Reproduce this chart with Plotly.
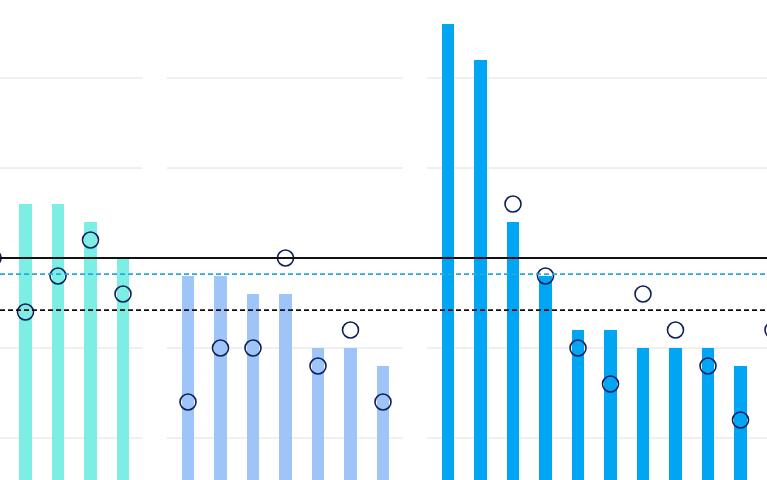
import plotly.graph_objects as go

# three groups of bars with open-circle markers on top
group_colors = ["#7DEEE3", "#9FC4F8", "#00A6F4"]
g1_bars = [None, 36, 36, 34, 30]
g1_dots = [30, 24, 28, 32, 26]
g2_bars = [28, 28, 26, 26, 20, 20, 18]
g2_dots = [14, 20, 20, 30, 18, 22, 14]
g3_bars = [56, 52, 34, 28, 22, 22, 20, 20, 20, 18, None]
g3_dots = [None, None, 36, 28, 20, 16, 26, 22, 18, 12, 22]

# reference lines
solid_ref = 30
cyan_ref = 28.2
dark_ref = 24.2
grid_vals = [10, 20, 30, 40, 50]

groups = [(g1_bars, g1_dots), (g2_bars, g2_dots), (g3_bars, g3_dots)]

bar_traces, dot_traces, shapes = [], [], []
start = 0
for (bars, dots), col in zip(groups, group_colors):
    xs = list(range(start, start + len(bars)))
    bar_traces.append(go.Bar(x=xs, y=bars, marker_color=col, width=0.37,
                             marker_line_width=0, showlegend=False))
    # keep clipping on so the edge circles are cut, not dropped
    dot_traces.append(go.Scatter(x=xs, y=dots, mode="markers",
                                 marker=dict(symbol="circle-open", size=16,
                                             color="#0C1F5B", line_width=1.6),
                                 showlegend=False))
    # gridlines broken between groups
    for g in grid_vals:
        shapes.append(dict(type="line", layer="below", xref="x", yref="y",
                           x0=xs[0] - 0.65, x1=xs[-1] + 0.6, y0=g, y1=g,
                           line=dict(color="#E0E0E0", width=1)))
    start = xs[-1] + 2

shapes += [
    dict(type="line", xref="paper", yref="y", x0=0, x1=1, y0=solid_ref, y1=solid_ref,
         line=dict(color="#111111", width=1.8)),
    dict(type="line", xref="paper", yref="y", x0=0, x1=1, y0=cyan_ref, y1=cyan_ref,
         line=dict(color="#2AA8DC", width=1.8, dash="5px,3px")),
    dict(type="line", xref="paper", yref="y", x0=0, x1=1, y0=dark_ref, y1=dark_ref,
         line=dict(color="#111111", width=1.8, dash="5px,3px")),
]

fig = go.Figure(bar_traces + dot_traces)
fig.update_layout(
    width=767, height=480,
    margin=dict(l=0, r=0, t=0, b=0),
    plot_bgcolor="white", paper_bgcolor="white",
    shapes=shapes,
    bargap=0,
    xaxis=dict(range=[7.0 / 32.5, 774.0 / 32.5], visible=False),
    yaxis=dict(range=[10 - 42 / 9, 10 + 438 / 9], visible=False),
)
fig.write_html("out.html", config={"displayModeBar": False},
               post_script="document.body.style.margin='0';")
